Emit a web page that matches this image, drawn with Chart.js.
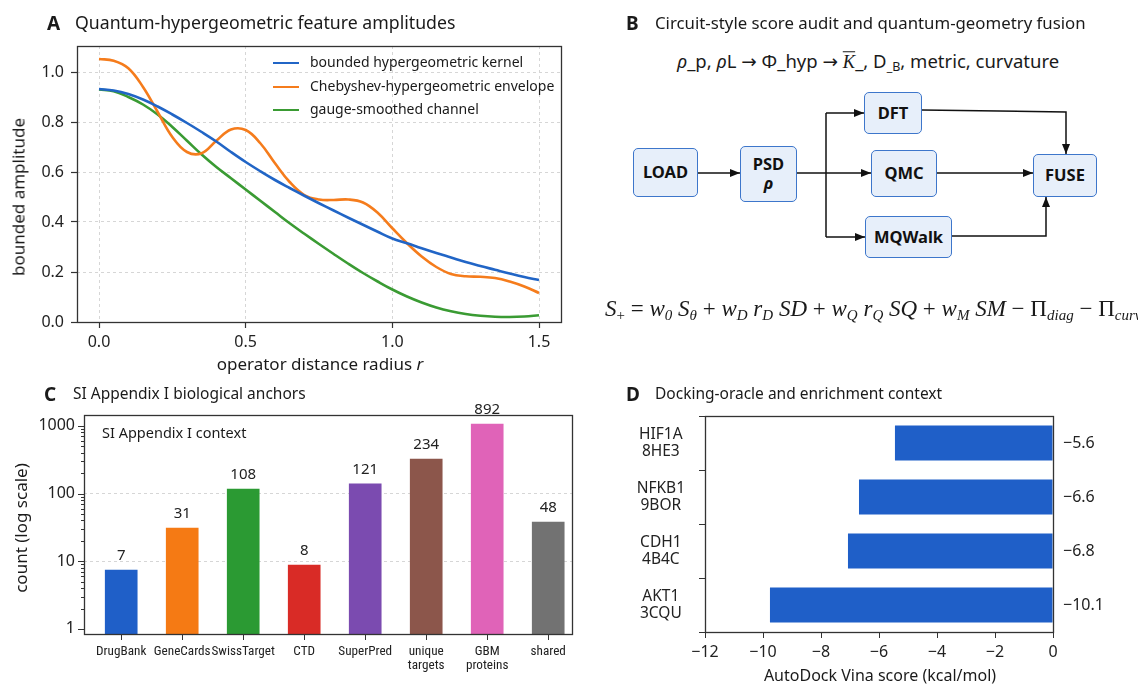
<!DOCTYPE html>
<html><head><meta charset="utf-8">
<script src="https://cdn.jsdelivr.net/npm/chart.js@4.4.1/dist/chart.umd.min.js"></script>
<style>
html,body{margin:0;padding:0;background:#fff;overflow:hidden;}
body{width:1138px;height:685px;position:relative;font-family:"Noto Sans",sans-serif;color:#1a1a1a;}
.t{position:absolute;white-space:nowrap;line-height:1;transform:translateY(-50%);}
.c{position:absolute;white-space:nowrap;line-height:1;transform:translate(-50%,-50%);}
.rot{position:absolute;white-space:nowrap;line-height:1;transform:translate(-50%,-50%) rotate(-90deg);}
.bl{font-weight:bold;font-size:19px;}
canvas{position:absolute;}
.box{position:absolute;box-sizing:border-box;background:#e7effa;border:1.6px solid #3d76cb;border-radius:5px;display:flex;flex-direction:column;align-items:center;justify-content:center;font-weight:bold;font-size:16.5px;color:#111;line-height:1.15;}
.leg{position:absolute;font-size:14px;line-height:1;white-space:nowrap;}
.leg span{white-space:nowrap;}
.leg span.ln{position:absolute;width:26px;height:0;border-top:2.6px solid;}
.eq{position:absolute;font-family:"Liberation Serif",serif;font-style:italic;font-size:23px;white-space:nowrap;transform:translateY(-50%);line-height:1;}
.eq sub{font-size:15px;vertical-align:-4px;}
.eq .n{font-style:normal;}
.ar{font-family:"DejaVu Sans",sans-serif;}
</style></head>
<body>
<canvas id="cA" width="570" height="380" style="left:0px;top:0px"></canvas>
<canvas id="cC" width="580" height="305" style="left:0px;top:380px"></canvas>
<canvas id="cD" width="563" height="305" style="left:575px;top:380px"></canvas>

<!-- Panel A text -->
<div class="t bl" style="left:47px;top:23px">A</div>
<div class="t" style="left:75px;top:23px;font-size:17.7px">Quantum-hypergeometric feature amplitudes</div>
<div class="rot" style="left:18px;top:197px;font-size:17px">bounded amplitude</div>
<div class="c" style="left:320px;top:363px;font-size:17px">operator distance radius <i>r</i></div>
<div class="leg" style="left:273px;top:63px"><span class="ln" style="left:0;top:-1px;border-color:#2165c6"></span><span style="position:absolute;left:37px;top:-8px">bounded hypergeometric kernel</span></div>
<div class="leg" style="left:273px;top:87px"><span class="ln" style="left:0;top:-1px;border-color:#f57c1c"></span><span style="position:absolute;left:37px;top:-8px">Chebyshev-hypergeometric envelope</span></div>
<div class="leg" style="left:273px;top:110px"><span class="ln" style="left:0;top:-1px;border-color:#3a9b33"></span><span style="position:absolute;left:37px;top:-8px">gauge-smoothed channel</span></div>

<!-- Panel B -->
<div class="t bl" style="left:626px;top:23px">B</div>
<div class="t" style="left:655px;top:23px;font-size:16.8px">Circuit-style score audit and quantum-geometry fusion</div>
<div class="c" style="left:868px;top:63px;font-size:18.5px"><i>ρ</i>_p, <i>ρ</i>L <span class="ar">→</span> Φ_hyp <span class="ar">→</span> <i style="font-family:'Liberation Serif',serif;text-decoration:overline">K</i>_, D<span style="font-size:12.5px;vertical-align:-3px">_B</span>, metric, curvature</div>
<svg width="1138" height="685" style="position:absolute;left:0;top:0" xmlns="http://www.w3.org/2000/svg">
<defs><marker id="ah" markerWidth="10" markerHeight="8" refX="10" refY="4" orient="auto" markerUnits="userSpaceOnUse"><path d="M0,0 L10,4 L0,8 z" fill="#111"/></marker></defs>
<g stroke="#111" stroke-width="1.5" fill="none">
<path d="M698,173 H740" marker-end="url(#ah)"/>
<path d="M797,173 H871" marker-end="url(#ah)"/>
<path d="M826,113 V237"/>
<path d="M826,113 H864" marker-end="url(#ah)"/>
<path d="M826,237 H865" marker-end="url(#ah)"/>
<path d="M922,110 L1066,112 V154" marker-end="url(#ah)"/>
<path d="M937,173 H1033" marker-end="url(#ah)"/>
<path d="M951,236 H1046 V197" marker-end="url(#ah)"/>
</g></svg>
<div class="box" style="left:633px;top:148px;width:65px;height:49px">LOAD</div>
<div class="box" style="left:740px;top:146px;width:57px;height:56px"><span>PSD</span><span style="font-style:italic">ρ</span></div>
<div class="box" style="left:864px;top:92px;width:58px;height:42px">DFT</div>
<div class="box" style="left:871px;top:150px;width:66px;height:47px">QMC</div>
<div class="box" style="left:865px;top:216px;width:87px;height:42px">MQWalk</div>
<div class="box" style="left:1033px;top:154px;width:64px;height:43px">FUSE</div>
<div class="eq" style="left:605px;top:310px"><i>S</i><sub class="n">+</sub> <span class="n">=</span> <i>w</i><sub>0</sub> <i>S</i><sub>θ</sub> <span class="n">+</span> <i>w</i><sub>D</sub> <i>r</i><sub>D</sub> <i>SD</i> <span class="n">+</span> <i>w</i><sub>Q</sub> <i>r</i><sub>Q</sub> <i>SQ</i> <span class="n">+</span> <i>w</i><sub>M</sub> <i>SM</i> <span class="n">−</span> <span class="n">Π</span><sub>diag</sub> <span class="n">−</span> <span class="n">Π</span><sub>curv</sub></div>

<!-- Panel C text -->
<div class="t bl" style="left:44px;top:394px">C</div>
<div class="t" style="left:73px;top:394px;font-size:15.5px">SI Appendix I biological anchors</div>
<div class="t" style="left:102px;top:432px;font-size:14.5px">SI Appendix I context</div>
<div class="rot" style="left:20px;top:528px;font-size:17px">count (log scale)</div>

<!-- Panel D text -->
<div class="t bl" style="left:626px;top:394px">D</div>
<div class="t" style="left:655px;top:394px;font-size:15.5px">Docking-oracle and enrichment context</div>
<div class="c" style="left:880px;top:675px;font-size:16px">AutoDock Vina score (kcal/mol)</div>

<script>
// ---------- Data ----------
const radius = [0,0.05,0.1,0.15,0.2,0.25,0.3,0.35,0.4,0.45,0.5,0.55,0.6,0.65,0.7,0.75,0.8,0.85,0.9,0.95,1.0,1.05,1.1,1.15,1.2,1.25,1.3,1.35,1.4,1.45,1.5];
const kernel = [0.932,0.926,0.912,0.89,0.862,0.83,0.796,0.76,0.722,0.68,0.64,0.603,0.568,0.536,0.505,0.475,0.446,0.417,0.389,0.361,0.334,0.315,0.295,0.276,0.258,0.24,0.224,0.209,0.194,0.18,0.168];
const envelope = [1.052,1.045,1.015,0.94,0.84,0.74,0.68,0.675,0.725,0.77,0.768,0.715,0.635,0.56,0.508,0.49,0.488,0.49,0.478,0.437,0.375,0.315,0.262,0.22,0.192,0.183,0.181,0.176,0.162,0.142,0.116];
const gauge = [0.93,0.923,0.9,0.87,0.83,0.78,0.725,0.67,0.62,0.575,0.53,0.485,0.44,0.395,0.353,0.312,0.272,0.233,0.196,0.162,0.13,0.102,0.078,0.058,0.043,0.032,0.025,0.021,0.02,0.022,0.027];
const seriesNames = ['bounded hypergeometric kernel','Chebyshev-hypergeometric envelope','gauge-smoothed channel'];
const radiusTicks = [0,0.5,1.0,1.5];
const amplitudeTicks = [0,0.2,0.4,0.6,0.8,1.0];

const sources = ['DrugBank','GeneCards','SwissTarget','CTD','SuperPred','unique targets','GBM proteins','shared'];
const sourceCounts = [7.4,31,117,8.8,139,324,1067,38];
const sourceCountLabels = ['7','31','108','8','121','234','892','48'];
const countTicks = [1,10,100,1000];

const dockTargets = ['HIF1A 8HE3','NFKB1 9BOR','CDH1 4B4C','AKT1 3CQU'];
const dockScores = [-5.45,-6.69,-7.07,-9.76];
const dockScoreLabels = ['−5.6','−6.6','−6.8','−10.1'];
const scoreTicks = [-12,-10,-8,-6,-4,-2,0];

// ---------- Styles ----------
const lineColors = ['#2165c6','#f57c1c','#3a9b33'];
const barColors = ['#1f5fc8','#f57a14','#2b9a33','#d92b26','#7b4bb0','#8c564b','#e063b8','#727272'];
const FONT = '"Noto Sans", sans-serif';
const NARROW = '"Liberation Sans Narrow", "Roboto Condensed", "DejaVu Sans Condensed", Roboto, sans-serif';
const INK = '#222';
const SPINE = '#333';
Chart.defaults.font.family = FONT;
Chart.defaults.color = INK;

const boxPlugin = {id:'box', afterDatasetsDraw(chart){
  const a = chart.chartArea, ctx = chart.ctx;
  ctx.save(); ctx.strokeStyle = SPINE; ctx.lineWidth = 1.3;
  ctx.strokeRect(Math.round(a.left)+0.5, Math.round(a.top)+0.5, Math.round(a.right-a.left), Math.round(a.bottom-a.top));
  ctx.restore();
}};
const minus = v => String(v).replace('-', '−');

// ---------- Panel A ----------
new Chart(document.getElementById('cA'), {
  type:'line',
  data:{datasets:[kernel, envelope, gauge].map((s,k)=>({
    label: seriesNames[k],
    data: radius.map((x,i)=>({x, y:s[i]})),
    borderColor: lineColors[k], borderWidth:2.6, pointRadius:0, tension:0.4, fill:false
  }))},
  options:{
    responsive:false, animation:false, devicePixelRatio:1,
    layout:{padding:{top:46,right:9,left:0,bottom:0}},
    plugins:{legend:{display:false}, tooltip:{enabled:false}},
    scales:{
      x:{type:'linear', min:-0.075, max:1.575,
        afterBuildTicks:s=>{s.ticks = radiusTicks.map(v=>({value:v}));},
        afterFit:s=>{s.height = 58;},
        ticks:{callback:v=>Number(v).toFixed(1), font:{size:16}, color:INK, padding:5, maxRotation:0, autoSkip:false},
        grid:{color:'#d6d6d6', borderDash:[3,3], tickColor:SPINE, tickLength:6, tickBorderDash:[], lineWidth:1, tickWidth:1.2},
        border:{display:false, dash:[3,3]}},
      y:{type:'linear', min:0, max:1.104,
        afterBuildTicks:s=>{s.ticks = amplitudeTicks.map(v=>({value:v}));},
        afterFit:s=>{s.width = 77;},
        ticks:{callback:v=>Number(v).toFixed(1), font:{size:16}, color:INK, padding:7, autoSkip:false},
        grid:{color:'#d6d6d6', borderDash:[3,3], tickColor:SPINE, tickLength:6, tickBorderDash:[], lineWidth:1, tickWidth:1.2},
        border:{display:false, dash:[3,3]}}
    }
  },
  plugins:[boxPlugin]
});

// ---------- Panel C ----------
const logTickPlugin = {id:'logticks', afterDatasetsDraw(chart){
  const y = chart.scales.y, a = chart.chartArea, ctx = chart.ctx;
  ctx.save(); ctx.strokeStyle = SPINE; ctx.lineWidth = 1;
  for (let e=0; e<=3; e++) for (let m=1; m<=9; m++){
    const v = m*Math.pow(10,e);
    if (v < y.min || v > y.max) continue;
    const p = Math.round(y.getPixelForValue(v))+0.5;
    const len = m===1 ? 6 : 3;
    ctx.beginPath(); ctx.moveTo(a.left, p); ctx.lineTo(a.left-len, p); ctx.stroke();
  }
  ctx.restore();
}};
const barLabelPlugin = {id:'barlabels', afterDatasetsDraw(chart){
  const ctx = chart.ctx, meta = chart.getDatasetMeta(0);
  ctx.save(); ctx.fillStyle = INK; ctx.font = '15px ' + FONT; ctx.textAlign='center'; ctx.textBaseline='alphabetic';
  meta.data.forEach((b,i)=>{ ctx.fillText(sourceCountLabels[i], b.x, b.y-10); });
  ctx.restore();
}};
new Chart(document.getElementById('cC'), {
  type:'bar',
  data:{datasets:[{data: sourceCounts.map((v,i)=>({x:i, y:v})), backgroundColor: barColors, borderWidth:0, barThickness:32}]},
  options:{
    responsive:false, animation:false, devicePixelRatio:1,
    layout:{padding:{top:35,right:8,left:0,bottom:0}},
    plugins:{legend:{display:false}, tooltip:{enabled:false}},
    scales:{
      x:{type:'linear', min:-0.61, max:7.39, offset:false,
        afterBuildTicks:s=>{s.ticks = sources.map((_,i)=>({value:i}));},
        afterFit:s=>{s.height = 51;},
        ticks:{callback:v=>{const n = sources[Math.round(v)]; return n.includes(' ') ? n.split(' ') : n;}, font:{family:NARROW, size:13.2, lineHeight:1.1}, color:INK, padding:4, maxRotation:0, autoSkip:false},
        grid:{offset:false, drawOnChartArea:false, tickColor:SPINE, tickLength:6, tickWidth:1},
        border:{display:false}},
      y:{type:'logarithmic', min:0.84, max:1450,
        afterBuildTicks:s=>{s.ticks = countTicks.map(v=>({value:v, major:true}));},
        afterFit:s=>{s.width = 84;},
        ticks:{callback:v=>String(v), font:{size:16}, color:INK, padding:9, autoSkip:false},
        grid:{drawTicks:false, color:c=>(c.tick && (c.tick.value===10 || c.tick.value===100)) ? '#d6d6d6' : 'rgba(0,0,0,0)', borderDash:[3,3], lineWidth:1},
        border:{display:false, dash:[3,3]}}
    }
  },
  plugins:[boxPlugin, logTickPlugin, barLabelPlugin]
});

// ---------- Panel D ----------
const dockLabelPlugin = {id:'docklabels', afterDatasetsDraw(chart){
  const ctx = chart.ctx, meta = chart.getDatasetMeta(0), a = chart.chartArea;
  ctx.save(); ctx.fillStyle = INK; ctx.font = '16px ' + FONT; ctx.textAlign='left'; ctx.textBaseline='middle';
  meta.data.forEach((b,i)=>{ ctx.fillText(dockScoreLabels[i], a.right+10, b.y); });
  ctx.restore();
}};
new Chart(document.getElementById('cD'), {
  type:'bar',
  data:{labels: dockTargets.map(t=>t.split(' ')), datasets:[{data: dockScores, backgroundColor:'#1f5fc8', borderWidth:0, barPercentage:0.65, categoryPercentage:1}]},
  options:{
    indexAxis:'y',
    responsive:false, animation:false, devicePixelRatio:1,
    layout:{padding:{top:36,right:85,left:0,bottom:0}},
    plugins:{legend:{display:false}, tooltip:{enabled:false}},
    scales:{
      x:{type:'linear', min:-12, max:0,
        afterBuildTicks:s=>{s.ticks = scoreTicks.map(v=>({value:v}));},
        afterFit:s=>{s.height = 53;},
        ticks:{callback:v=>minus(v), font:{size:16}, color:INK, padding:5, maxRotation:0, autoSkip:false},
        grid:{drawOnChartArea:false, tickColor:SPINE, tickLength:6, tickWidth:1},
        border:{display:false}},
      y:{type:'category',
        afterFit:s=>{s.width = 130;},
        ticks:{font:{size:15.5, lineHeight:1.1}, color:INK, padding:14, crossAlign:'center', autoSkip:false},
        grid:{drawOnChartArea:false, offset:true, tickColor:SPINE, tickLength:6, tickWidth:1},
        border:{display:false}}
    }
  },
  plugins:[boxPlugin, dockLabelPlugin]
});
</script>
</body></html>
